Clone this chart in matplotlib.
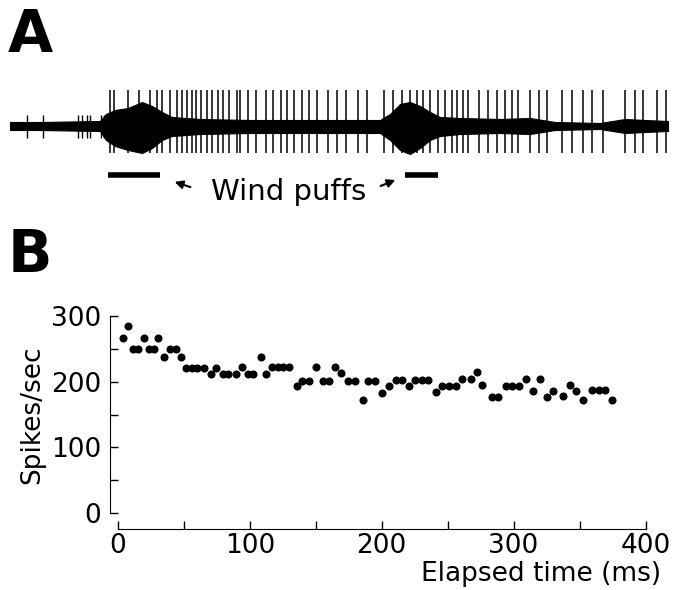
import matplotlib
matplotlib.use("Agg")
import matplotlib.pyplot as plt
from matplotlib.ticker import MultipleLocator

plt.rcParams.update({
    "font.family": "DejaVu Sans",
    "font.size": 19,
})

# ---- Panel B: instantaneous spike rate ----
elapsed_ms = [
    4.0, 7.8, 11.1, 15.4, 19.7, 23.7, 27.5, 30.1, 34.9, 39.4,
    44.0, 47.5, 51.6, 55.9, 60.1, 65.4, 70.3, 74.3, 79.4, 83.6,
    89.2, 94.2, 98.6, 102.6, 108.2, 112.0, 116.5, 121.1, 125.3, 129.6,
    135.7, 139.3, 145.0, 149.9, 155.2, 160.2, 164.7, 169.3, 174.6, 179.7,
    185.5, 189.3, 194.8, 200.4, 205.2, 210.5, 215.5, 220.6, 225.2, 230.7,
    235.3, 240.9, 245.4, 251.0, 256.0, 261.0, 267.4, 271.9, 275.7, 283.3,
    288.3, 293.9, 298.9, 304.0, 309.6, 314.6, 319.7, 325.0, 330.0, 337.1,
    342.5, 347.5, 352.5, 359.4, 364.4, 369.5, 374.8,
]
spike_rate = [
    267, 285, 250, 250, 267, 250, 250, 267, 237, 250,
    250, 237, 221, 221, 221, 221, 211, 221, 211, 211,
    211, 222, 211, 211, 237, 211, 222, 222, 222, 222,
    193, 201, 201, 222, 201, 201, 222, 213, 201, 201,
    172, 201, 201, 182, 193, 203, 203, 193, 203, 203,
    203, 184, 194, 194, 194, 204, 204, 215, 195, 176,
    176, 194, 194, 194, 204, 186, 204, 176, 186, 178,
    195, 186, 172, 187, 187, 187, 172,
]

# ---- Panel A: extracellular trace ----
# large spikes (position along the trace) and a few small early units
big_spikes = [
    110, 114, 128, 139, 150, 157, 162, 170, 177, 182, 187, 192, 196, 201,
    207, 212, 218, 223, 229, 237, 240, 248, 256, 266, 273, 281, 287, 294,
    302, 309, 317, 328, 337, 346, 358, 367, 384, 393, 402, 410, 417, 423,
    430, 438, 445, 452, 457, 463, 468, 479, 488, 497, 505, 512, 518, 530,
    539, 547, 562, 572, 583, 592, 603, 625, 635, 643, 657, 666,
]
small_spikes = [27, 43, 78, 82, 87, 90, 101, 104]
# noise envelope of the trace (above / below baseline)
env_pos = [10, 40, 100, 106, 115, 128, 142, 152, 162, 172, 200, 250, 300,
           380, 390, 400, 410, 420, 430, 440, 460, 500, 530, 555, 600, 625,
           645, 668]
env_up = [4, 4, 5, 12, 16, 18, 24, 20, 14, 9, 7, 6, 6, 6, 12, 22, 24, 20,
          14, 9, 8, 7, 8, 4, 3, 7, 6, 5]
env_dn = [4, 4, 5, 14, 20, 24, 27, 22, 14, 10, 8, 7, 7, 7, 14, 24, 28, 22,
          14, 10, 8, 7, 8, 4, 3, 7, 6, 5]
puff_1 = (108, 160)
puff_2 = (405, 438)

fig = plt.figure(figsize=(6.76, 5.9), dpi=100)
W, H = 676, 590

# panel A axes use picture-like units for the trace position
axA = fig.add_axes([0, (H - 210) / H, 1, 140 / H])
axA.set_xlim(0, W)
axA.set_ylim(-84, 56)
axA.axis("off")

axA.fill_between(env_pos, [-d for d in env_dn], env_up, color="black", lw=0.8)
axA.vlines(big_spikes, -27, 36, color="black", lw=1.1)
axA.vlines(small_spikes, -12, 11, color="black", lw=1.0)

for x0, x1 in (puff_1, puff_2):
    axA.plot([x0, x1], [-49, -49], color="black", lw=4, solid_capstyle="butt")

axA.text(289, -66, "Wind puffs", ha="center", va="center", fontsize=21)
axA.annotate("", xy=(172, -55), xytext=(193, -62),
             arrowprops=dict(arrowstyle="-|>", color="black", lw=1.5,
                             mutation_scale=12))
axA.annotate("", xy=(398, -53), xytext=(378, -61),
             arrowprops=dict(arrowstyle="-|>", color="black", lw=1.5,
                             mutation_scale=12))

fig.text(8 / W, 1 - 36 / H, "A", fontsize=42, fontweight="bold",
         ha="left", va="center")
fig.text(8 / W, 1 - 255 / H, "B", fontsize=42, fontweight="bold",
         ha="left", va="center")

# panel B
axB = fig.add_axes([118 / W, (H - 513) / H, (645.5 - 118) / W, (513 - 316) / H])
axB.plot(elapsed_ms, spike_rate, "o", color="black", ms=4.8, clip_on=False)
axB.set_xlim(0, 400)
axB.set_ylim(0, 300)

for side in ("top", "right"):
    axB.spines[side].set_visible(False)
axB.spines["left"].set_position(("outward", 6))
axB.spines["bottom"].set_position(("outward", 11.5))
axB.spines["left"].set_bounds(0, 300)
axB.spines["bottom"].set_bounds(0, 400)

axB.xaxis.set_major_locator(MultipleLocator(100))
axB.xaxis.set_minor_locator(MultipleLocator(50))
axB.yaxis.set_major_locator(MultipleLocator(100))
axB.yaxis.set_minor_locator(MultipleLocator(50))
axB.tick_params(which="both", direction="in", length=6, width=1)
axB.tick_params(axis="y", which="major", labelsize=19, pad=6)
axB.tick_params(axis="x", which="major", labelsize=19, pad=3)

axB.set_ylabel("Spikes/sec", fontsize=19, labelpad=4)
axB.set_xlabel("Elapsed time (ms)", fontsize=19)
axB.xaxis.set_label_coords(1.03, -0.245)
axB.xaxis.label.set_horizontalalignment("right")

fig.savefig("out.png", dpi=100)
